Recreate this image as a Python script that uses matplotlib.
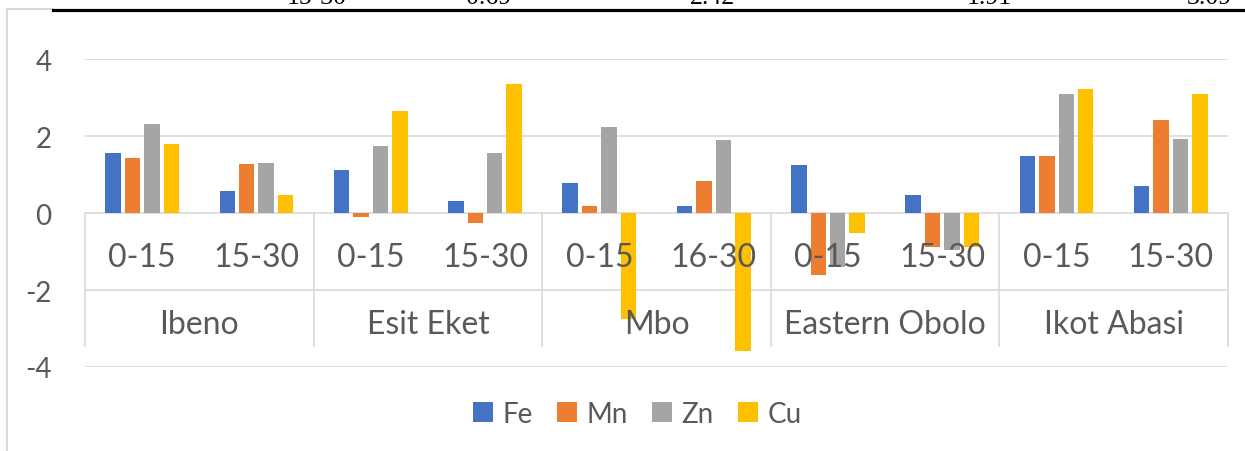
import matplotlib.pyplot as plt
from matplotlib.lines import Line2D
from matplotlib.patches import Patch
import matplotlib.transforms as mtransforms
import numpy as np

# data
groups = ['Ibeno', 'Esit Eket', 'Mbo', 'Eastern Obolo', 'Ikot Abasi']
depths = ['0-15', '15-30', '0-15', '15-30', '0-15', '16-30', '0-15', '15-30', '0-15', '15-30']
fe = [1.57, 0.57, 1.12, 0.31, 0.79, 0.18, 1.25, 0.47, 1.47, 0.69]
mn = [1.43, 1.28, -0.10, -0.25, 0.17, 0.82, -1.62, -0.88, 1.48, 2.42]
zn = [2.31, 1.31, 1.75, 1.55, 2.23, 1.90, -1.40, -0.96, 3.08, 1.91]
cu = [1.80, 0.48, 2.64, 3.34, -2.75, -3.58, -0.52, -0.88, 3.21, 3.09]
series = ['Fe', 'Mn', 'Zn', 'Cu']
colors = ['#4472C4', '#ED7D31', '#A5A5A5', '#FFC000']

# cut-off table row above the chart
top_row = ['15-30', '0.69', '2.42', '1.91', '3.09']
top_x = [317, 489, 712, 989, 1209]

W, H = 1245, 452
fig = plt.figure(figsize=(W / 100, H / 100), dpi=100)
plt.rcParams['font.family'] = ['Lato', 'DejaVu Sans']
txt = '#595959'
grid = '#D9D9D9'

ax = fig.add_axes([85 / W, 1 - 368 / H, (1228 - 85) / W, (368 - 60) / H])

x = np.arange(len(depths))
step = 0.17
for i, (name, vals) in enumerate(zip(series, [fe, mn, zn, cu])):
    ax.bar(x + (i - 1.5) * step, vals, width=0.135, color=colors[i], zorder=2, label=name)

ax.set_xlim(-0.5, len(depths) - 0.5)
ax.set_ylim(-4, 4)
ax.set_yticks([-4, -2, 0, 2, 4])
ax.set_yticklabels(['-4', '-2', '0', '2', '4'])
ax.tick_params(axis='y', length=0, pad=24, labelsize=20, labelcolor=txt)
ax.set_xticks([])
for s in ax.spines.values():
    s.set_visible(False)
ax.grid(axis='y', color=grid, lw=1.2, zorder=0)
ax.set_axisbelow(True)

# multi-level category axis
trans = mtransforms.blended_transform_factory(ax.transData, ax.transAxes)
bottom = (368 - 347) / 308
for b in np.arange(-0.5, len(depths), 2):
    ax.plot([b, b], [0.5, bottom], color=grid, lw=1.2, transform=trans, zorder=1, clip_on=False)
for xi, lab in zip(x, depths):
    ax.text(xi, (368 - 258) / 308, lab, transform=trans, ha='center', va='center',
            fontsize=23, color=txt, zorder=3)
for gi, g in enumerate(groups):
    ax.text(2 * gi + 0.5, (368 - 325) / 308, g, transform=trans, ha='center', va='center',
            fontsize=23, color=txt, zorder=3)

# legend
handles = [Patch(facecolor=c, edgecolor='none') for c in colors]
fig.legend(handles, series, loc='center', bbox_to_anchor=(0.512, 1 - 415 / H), ncol=4,
           frameon=False, fontsize=20, handlelength=0.71, handleheight=0.71,
           handletextpad=0.36, columnspacing=0.86, labelcolor=txt)

# chart border and the table line above it
fig.add_artist(Line2D([7 / W, 7 / W], [0, 1 - 10 / H], color=grid, lw=1.5))
fig.add_artist(Line2D([7 / W, 53 / W], [1 - 10 / H, 1 - 10 / H], color=grid, lw=1.5))
fig.add_artist(Line2D([53 / W, 1], [1 - 10.5 / H, 1 - 10.5 / H], color='black', lw=2.3))
for t, px in zip(top_row, top_x):
    fig.text(px / W, 1 - 4 / H, t, ha='center', va='baseline', fontsize=18.5,
             family=['Liberation Serif', 'DejaVu Serif'], color='black')

fig.savefig('out.png', dpi=100)
